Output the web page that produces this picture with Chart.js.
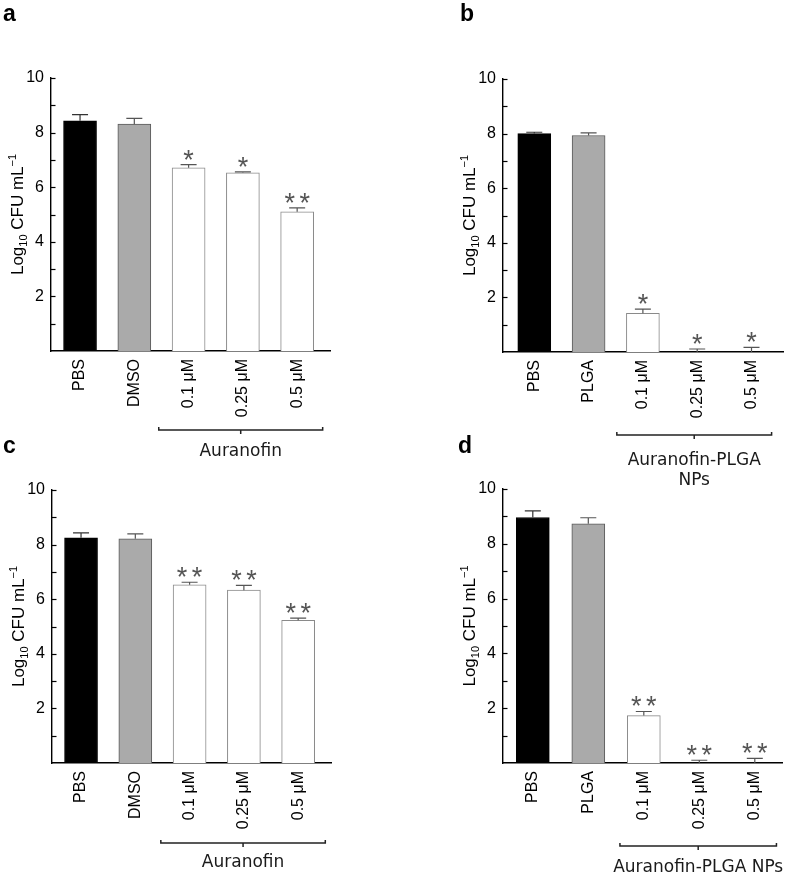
<!DOCTYPE html>
<html><head><meta charset="utf-8">
<script src="https://cdn.jsdelivr.net/npm/chart.js@4.4.1/dist/chart.umd.min.js"></script>
<style>
html,body{margin:0;padding:0;background:#fff;}
body{width:787px;height:875px;position:relative;overflow:hidden;}
canvas{position:absolute;}
</style></head><body>
<canvas id="ca"></canvas>
<canvas id="cb"></canvas>
<canvas id="cc"></canvas>
<canvas id="cd"></canvas>
<script>
// ---------- data ----------
const categoriesAC = ['PBS', 'DMSO', '0.1 μM', '0.25 μM', '0.5 μM'];
const categoriesBD = ['PBS', 'PLGA', '0.1 μM', '0.25 μM', '0.5 μM'];
const yTickLabels = [2, 4, 6, 8, 10];

const valuesA = [8.43, 8.31, 6.71, 6.53, 5.10];
const errorsA = [0.23, 0.21, 0.12, 0.03, 0.14];
const starsA  = ['', '', '*', '*', '**'];

const valuesB = [8.00, 7.93, 1.42, 0.00, 0.00];
const errorsB = [0.05, 0.10, 0.15, 0.11, 0.17];
const starsB  = ['', '', '*', '*', '*'];

const valuesC = [8.25, 8.21, 6.53, 6.33, 5.23];
const errorsC = [0.18, 0.18, 0.09, 0.18, 0.08];
const starsC  = ['', '', '**', '**', '**'];

const valuesD = [8.96, 8.73, 1.73, 0.00, 0.00];
const errorsD = [0.24, 0.22, 0.15, 0.10, 0.17];
const starsD  = ['', '', '**', '**', '**'];

const groupLabelA = ['Auranofin'];
const groupLabelB = ['Auranofin-PLGA', 'NPs'];
const groupLabelC = ['Auranofin'];
const groupLabelD = ['Auranofin-PLGA NPs'];

// ---------- styles ----------
const barFill   = ['#000000', '#aaaaaa', '#ffffff', '#ffffff', '#ffffff'];
const barBorder = ['#000000', '#5a5a5a', '#8a8a8a', '#8a8a8a', '#8a8a8a'];
const SANS = '"Liberation Sans", Arial, sans-serif';
const GROUPFONT = '17px "DejaVu Sans", sans-serif';
Chart.defaults.font.family = SANS;
Chart.defaults.color = '#000';

function decoPlugin(cfg) {
  return {
    id: 'deco',
    afterDraw(chart) {
      const ctx = chart.ctx, ca = chart.chartArea;
      const xs = chart.scales.x, ys = chart.scales.y;
      const meta = chart.getDatasetMeta(0);
      ctx.save();
      // inward tick marks
      ctx.strokeStyle = '#000'; ctx.lineWidth = 1.2;
      for (let v = 1; v <= 10; v++) {
        const y = Math.round(ys.getPixelForValue(v)) + 0.5;
        ctx.beginPath(); ctx.moveTo(ca.left, y); ctx.lineTo(ca.left + 4.5, y); ctx.stroke();
      }
      // error bars + stars
      cfg.values.forEach((v, i) => {
        const x = meta.data[i].x;
        const yb = ys.getPixelForValue(v), yt = ys.getPixelForValue(v + cfg.errors[i]);
        ctx.strokeStyle = i === 0 ? '#333' : '#555'; ctx.lineWidth = 1.2;
        ctx.beginPath();
        ctx.moveTo(x, yb); ctx.lineTo(x, yt);
        ctx.moveTo(x - 8, yt); ctx.lineTo(x + 8, yt);
        ctx.stroke();
        const s = cfg.stars[i];
        if (s) {
          ctx.font = '27px ' + SANS;
          ctx.fillStyle = '#555';
          ctx.textAlign = 'center'; ctx.textBaseline = 'alphabetic';
          const m = ctx.measureText('*');
          const cy = yt - 10;
          const base = cy + (m.actualBoundingBoxAscent - m.actualBoundingBoxDescent) / 2;
          for (let k = 0; k < s.length; k++) {
            const cx = x + (k - (s.length - 1) / 2) * 15;
            ctx.fillText('*', cx, base);
          }
        }
      });
      // y-axis title with sub/superscript
      const parts = [
        {t: 'Log', s: 17, dy: 0},
        {t: '10', s: 11, dy: 4},
        {t: ' CFU mL', s: 17, dy: 0},
        {t: '\u22121', s: 11, dy: -7}
      ];
      let total = 0;
      parts.forEach(p => { ctx.font = p.s + 'px ' + SANS; p.w = ctx.measureText(p.t).width; total += p.w; });
      ctx.translate(ca.left - 34, (ca.top + ca.bottom) / 2);
      ctx.rotate(-Math.PI / 2);
      ctx.fillStyle = '#000'; ctx.textAlign = 'left'; ctx.textBaseline = 'alphabetic';
      let px = -total / 2;
      parts.forEach(p => { ctx.font = p.s + 'px ' + SANS; ctx.fillText(p.t, px, 6 + p.dy); px += p.w; });
      ctx.setTransform(1, 0, 0, 1, 0, 0);
      // panel letter
      ctx.font = 'bold 23px ' + SANS;
      ctx.fillStyle = '#000'; ctx.textAlign = 'left'; ctx.textBaseline = 'alphabetic';
      ctx.fillText(cfg.letter, cfg.letterX, cfg.letterY);
      // bracket
      const bx0 = xs.getPixelForValue(cfg.br.from), bx1 = xs.getPixelForValue(cfg.br.to);
      const by = ca.bottom + cfg.br.dy, bm = (bx0 + bx1) / 2;
      ctx.strokeStyle = '#222'; ctx.lineWidth = 1.5;
      ctx.beginPath();
      ctx.moveTo(bx0, by - 3); ctx.lineTo(bx0, by); ctx.lineTo(bx1, by); ctx.lineTo(bx1, by - 3);
      ctx.moveTo(bm, by); ctx.lineTo(bm, by + 4);
      ctx.stroke();
      ctx.font = GROUPFONT; ctx.fillStyle = '#1a1a1a'; ctx.textAlign = 'center';
      cfg.group.forEach((g, k) => ctx.fillText(g, bm, by + cfg.br.textDy + k * 20));
      ctx.restore();
    }
  };
}

function makePanel(id, box, area, xr, categories, values, errors, stars, group, letter, br) {
  const cv = document.getElementById(id);
  cv.width = box.w; cv.height = box.h;
  cv.style.left = box.left + 'px'; cv.style.top = box.top + 'px';
  cv.style.width = box.w + 'px'; cv.style.height = box.h + 'px';
  return new Chart(cv, {
    type: 'bar',
    data: {
      datasets: [{
        data: values.map((v, i) => ({x: i, y: v})),
        backgroundColor: barFill,
        borderColor: barBorder,
        borderWidth: 1,
        borderSkipped: 'start',
        barThickness: 33
      }]
    },
    options: {
      responsive: false,
      animation: false,
      devicePixelRatio: 1,
      layout: {padding: {left: 0, top: area.T, right: box.w - area.R, bottom: 0}},
      plugins: {legend: {display: false}, tooltip: {enabled: false}},
      scales: {
        x: {
          type: 'linear', min: xr[0], max: xr[1], offset: false,
          grid: {display: false, drawTicks: false},
          border: {display: true, color: '#000', width: 1.4},
          afterBuildTicks: s => { s.ticks = categories.map((c, i) => ({value: i})); },
          afterFit: s => { s.height = box.h - area.B; },
          ticks: {
            autoSkip: false, minRotation: 90, maxRotation: 90, padding: 8,
            font: {size: 16, family: SANS}, color: '#000',
            callback: v => categories[v]
          }
        },
        y: {
          min: 0, max: 10,
          grid: {display: false, drawTicks: false},
          border: {display: true, color: '#000', width: 1.4},
          afterFit: s => { s.width = area.L; },
          afterBuildTicks: s => { s.ticks = yTickLabels.map(v => ({value: v})); },
          ticks: {padding: 7, font: {size: 16, family: SANS}, color: '#000'}
        }
      }
    },
    plugins: [decoPlugin({values, errors, stars, group, letter: letter[0], letterX: letter[1], letterY: letter[2], br})]
  });
}

makePanel('ca', {left: 0, top: 0, w: 390, h: 470}, {L: 51, T: 78, R: 330, B: 351}, [-0.535, 4.605],
  categoriesAC, valuesA, errorsA, starsA, groupLabelA, ['a', 3, 21], {from: 1.45, to: 4.47, dy: 79, textDy: 26});
makePanel('cb', {left: 390, top: 0, w: 397, h: 490}, {L: 113, T: 79, R: 393, B: 352}, [-0.576, 4.58],
  categoriesBD, valuesB, errorsB, starsB, groupLabelB, ['b', 70, 21], {from: 1.52, to: 4.37, dy: 83, textDy: 30});
makePanel('cc', {left: 0, top: 430, w: 390, h: 445}, {L: 52, T: 60, R: 331, B: 333}, [-0.535, 4.605],
  categoriesAC, valuesC, errorsC, starsC, groupLabelC, ['c', 3, 23], {from: 1.47, to: 4.5, dy: 80, textDy: 24});
makePanel('cd', {left: 390, top: 430, w: 397, h: 445}, {L: 113, T: 59, R: 392, B: 333}, [-0.537, 4.49],
  categoriesBD, valuesD, errorsD, starsD, groupLabelD, ['d', 68, 23], {from: 1.57, to: 4.39, dy: 83, textDy: 26});
</script>
</body></html>
